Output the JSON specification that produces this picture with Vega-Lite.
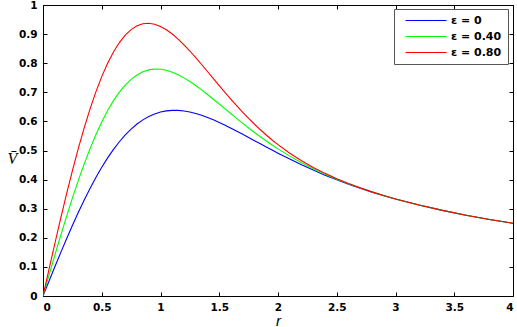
{
"$schema": "https://vega.github.io/schema/vega-lite/v6.json",
"width": 470, "height": 291,
"autosize": "none",
"padding": {"left": 43, "top": 5, "right": 4, "bottom": 31},
"background": "white",
"config": {"view": {"stroke": "black", "strokeWidth": 1},
 "axis": {"domain": false, "grid": false, "tickColor": "black", "tickSize": -4, "labelFont": "DejaVu Sans", "labelFontSize": 10.5, "labelColor": "black", "labelFontWeight": "bold"}},
"data": {"values": [
{"r":0,"V":0,"eps":"ε = 0"},{"r":0.05,"V":0.04994,"eps":"ε = 0"},{"r":0.1,"V":0.0995,"eps":"ε = 0"},{"r":0.15,"V":0.14833,"eps":"ε = 0"},{"r":0.2,"V":0.19605,"eps":"ε = 0"},{"r":0.25,"V":0.24235,"eps":"ε = 0"},{"r":0.3,"V":0.2869,"eps":"ε = 0"},{"r":0.35,"V":0.32941,"eps":"ε = 0"},{"r":0.4,"V":0.36964,"eps":"ε = 0"},{"r":0.45,"V":0.40736,"eps":"ε = 0"},{"r":0.5,"V":0.4424,"eps":"ε = 0"},{"r":0.55,"V":0.4746,"eps":"ε = 0"},{"r":0.6,"V":0.50387,"eps":"ε = 0"},{"r":0.65,"V":0.53014,"eps":"ε = 0"},{"r":0.7,"V":0.55339,"eps":"ε = 0"},{"r":0.75,"V":0.57362,"eps":"ε = 0"},{"r":0.8,"V":0.59089,"eps":"ε = 0"},{"r":0.85,"V":0.60525,"eps":"ε = 0"},{"r":0.9,"V":0.61682,"eps":"ε = 0"},{"r":0.95,"V":0.62571,"eps":"ε = 0"},{"r":1.0,"V":0.63212,"eps":"ε = 0"},{"r":1.05,"V":0.63616,"eps":"ε = 0"},{"r":1.1,"V":0.638,"eps":"ε = 0"},{"r":1.15,"V":0.63785,"eps":"ε = 0"},{"r":1.2,"V":0.63589,"eps":"ε = 0"},{"r":1.25,"V":0.63231,"eps":"ε = 0"},{"r":1.3,"V":0.62729,"eps":"ε = 0"},{"r":1.35,"V":0.62101,"eps":"ε = 0"},{"r":1.4,"V":0.61367,"eps":"ε = 0"},{"r":1.45,"V":0.60542,"eps":"ε = 0"},{"r":1.5,"V":0.5964,"eps":"ε = 0"},{"r":1.55,"V":0.58678,"eps":"ε = 0"},{"r":1.6,"V":0.57668,"eps":"ε = 0"},{"r":1.65,"V":0.56623,"eps":"ε = 0"},{"r":1.7,"V":0.55554,"eps":"ε = 0"},{"r":1.75,"V":0.5447,"eps":"ε = 0"},{"r":1.8,"V":0.5338,"eps":"ε = 0"},{"r":1.85,"V":0.5229,"eps":"ε = 0"},{"r":1.9,"V":0.51208,"eps":"ε = 0"},{"r":1.95,"V":0.50138,"eps":"ε = 0"},{"r":2.0,"V":0.49084,"eps":"ε = 0"},{"r":2.1,"V":0.4704,"eps":"ε = 0"},{"r":2.2,"V":0.45095,"eps":"ε = 0"},{"r":2.3,"V":0.43259,"eps":"ε = 0"},{"r":2.4,"V":0.41535,"eps":"ε = 0"},{"r":2.5,"V":0.39923,"eps":"ε = 0"},{"r":2.6,"V":0.38417,"eps":"ε = 0"},{"r":2.7,"V":0.37012,"eps":"ε = 0"},{"r":2.8,"V":0.357,"eps":"ε = 0"},{"r":2.9,"V":0.34475,"eps":"ε = 0"},{"r":3.0,"V":0.33331,"eps":"ε = 0"},{"r":3.2,"V":0.3125,"eps":"ε = 0"},{"r":3.4,"V":0.29412,"eps":"ε = 0"},{"r":3.6,"V":0.27778,"eps":"ε = 0"},{"r":3.8,"V":0.26316,"eps":"ε = 0"},{"r":4.0,"V":0.25,"eps":"ε = 0"},
{"r":0,"V":0,"eps":"ε = 0.40"},{"r":0.05,"V":0.06989,"eps":"ε = 0.40"},{"r":0.1,"V":0.1391,"eps":"ε = 0.40"},{"r":0.15,"V":0.207,"eps":"ε = 0.40"},{"r":0.2,"V":0.27291,"eps":"ε = 0.40"},{"r":0.25,"V":0.33629,"eps":"ε = 0.40"},{"r":0.3,"V":0.39657,"eps":"ε = 0.40"},{"r":0.35,"V":0.45327,"eps":"ε = 0.40"},{"r":0.4,"V":0.50598,"eps":"ε = 0.40"},{"r":0.45,"V":0.55436,"eps":"ε = 0.40"},{"r":0.5,"V":0.59816,"eps":"ε = 0.40"},{"r":0.55,"V":0.63717,"eps":"ε = 0.40"},{"r":0.6,"V":0.67131,"eps":"ε = 0.40"},{"r":0.65,"V":0.70055,"eps":"ε = 0.40"},{"r":0.7,"V":0.72493,"eps":"ε = 0.40"},{"r":0.75,"V":0.74455,"eps":"ε = 0.40"},{"r":0.8,"V":0.75962,"eps":"ε = 0.40"},{"r":0.85,"V":0.77033,"eps":"ε = 0.40"},{"r":0.9,"V":0.77697,"eps":"ε = 0.40"},{"r":0.95,"V":0.77983,"eps":"ε = 0.40"},{"r":1.0,"V":0.77927,"eps":"ε = 0.40"},{"r":1.05,"V":0.77561,"eps":"ε = 0.40"},{"r":1.1,"V":0.76921,"eps":"ε = 0.40"},{"r":1.15,"V":0.76043,"eps":"ε = 0.40"},{"r":1.2,"V":0.74962,"eps":"ε = 0.40"},{"r":1.25,"V":0.73712,"eps":"ε = 0.40"},{"r":1.3,"V":0.72324,"eps":"ε = 0.40"},{"r":1.35,"V":0.70829,"eps":"ε = 0.40"},{"r":1.4,"V":0.69255,"eps":"ε = 0.40"},{"r":1.45,"V":0.67626,"eps":"ε = 0.40"},{"r":1.5,"V":0.65964,"eps":"ε = 0.40"},{"r":1.55,"V":0.64289,"eps":"ε = 0.40"},{"r":1.6,"V":0.62616,"eps":"ε = 0.40"},{"r":1.65,"V":0.6096,"eps":"ε = 0.40"},{"r":1.7,"V":0.59333,"eps":"ε = 0.40"},{"r":1.75,"V":0.57744,"eps":"ε = 0.40"},{"r":1.8,"V":0.562,"eps":"ε = 0.40"},{"r":1.85,"V":0.54705,"eps":"ε = 0.40"},{"r":1.9,"V":0.53264,"eps":"ε = 0.40"},{"r":1.95,"V":0.51879,"eps":"ε = 0.40"},{"r":2.0,"V":0.50549,"eps":"ε = 0.40"},{"r":2.1,"V":0.48061,"eps":"ε = 0.40"},{"r":2.2,"V":0.45791,"eps":"ε = 0.40"},{"r":2.3,"V":0.43723,"eps":"ε = 0.40"},{"r":2.4,"V":0.41838,"eps":"ε = 0.40"},{"r":2.5,"V":0.40116,"eps":"ε = 0.40"},{"r":2.6,"V":0.38538,"eps":"ε = 0.40"},{"r":2.7,"V":0.37086,"eps":"ε = 0.40"},{"r":2.8,"V":0.35744,"eps":"ε = 0.40"},{"r":2.9,"V":0.34501,"eps":"ε = 0.40"},{"r":3.0,"V":0.33346,"eps":"ε = 0.40"},{"r":3.2,"V":0.31255,"eps":"ε = 0.40"},{"r":3.4,"V":0.29412,"eps":"ε = 0.40"},{"r":3.6,"V":0.27778,"eps":"ε = 0.40"},{"r":3.8,"V":0.26316,"eps":"ε = 0.40"},{"r":4.0,"V":0.25,"eps":"ε = 0.40"},
{"r":0,"V":0,"eps":"ε = 0.80"},{"r":0.05,"V":0.08984,"eps":"ε = 0.80"},{"r":0.1,"V":0.1787,"eps":"ε = 0.80"},{"r":0.15,"V":0.26566,"eps":"ε = 0.80"},{"r":0.2,"V":0.34978,"eps":"ε = 0.80"},{"r":0.25,"V":0.43023,"eps":"ε = 0.80"},{"r":0.3,"V":0.50624,"eps":"ε = 0.80"},{"r":0.35,"V":0.57713,"eps":"ε = 0.80"},{"r":0.4,"V":0.64233,"eps":"ε = 0.80"},{"r":0.45,"V":0.70137,"eps":"ε = 0.80"},{"r":0.5,"V":0.75392,"eps":"ε = 0.80"},{"r":0.55,"V":0.79975,"eps":"ε = 0.80"},{"r":0.6,"V":0.83875,"eps":"ε = 0.80"},{"r":0.65,"V":0.87095,"eps":"ε = 0.80"},{"r":0.7,"V":0.89646,"eps":"ε = 0.80"},{"r":0.75,"V":0.91549,"eps":"ε = 0.80"},{"r":0.8,"V":0.92836,"eps":"ε = 0.80"},{"r":0.85,"V":0.93541,"eps":"ε = 0.80"},{"r":0.9,"V":0.93712,"eps":"ε = 0.80"},{"r":0.95,"V":0.93395,"eps":"ε = 0.80"},{"r":1.0,"V":0.92642,"eps":"ε = 0.80"},{"r":1.05,"V":0.91507,"eps":"ε = 0.80"},{"r":1.1,"V":0.90041,"eps":"ε = 0.80"},{"r":1.15,"V":0.883,"eps":"ε = 0.80"},{"r":1.2,"V":0.86334,"eps":"ε = 0.80"},{"r":1.25,"V":0.84192,"eps":"ε = 0.80"},{"r":1.3,"V":0.81919,"eps":"ε = 0.80"},{"r":1.35,"V":0.79558,"eps":"ε = 0.80"},{"r":1.4,"V":0.77143,"eps":"ε = 0.80"},{"r":1.45,"V":0.7471,"eps":"ε = 0.80"},{"r":1.5,"V":0.72288,"eps":"ε = 0.80"},{"r":1.55,"V":0.699,"eps":"ε = 0.80"},{"r":1.6,"V":0.67563,"eps":"ε = 0.80"},{"r":1.65,"V":0.65297,"eps":"ε = 0.80"},{"r":1.7,"V":0.63112,"eps":"ε = 0.80"},{"r":1.75,"V":0.61018,"eps":"ε = 0.80"},{"r":1.8,"V":0.5902,"eps":"ε = 0.80"},{"r":1.85,"V":0.57119,"eps":"ε = 0.80"},{"r":1.9,"V":0.5532,"eps":"ε = 0.80"},{"r":1.95,"V":0.53619,"eps":"ε = 0.80"},{"r":2.0,"V":0.52014,"eps":"ε = 0.80"},{"r":2.1,"V":0.49082,"eps":"ε = 0.80"},{"r":2.2,"V":0.46487,"eps":"ε = 0.80"},{"r":2.3,"V":0.44187,"eps":"ε = 0.80"},{"r":2.4,"V":0.4214,"eps":"ε = 0.80"},{"r":2.5,"V":0.40309,"eps":"ε = 0.80"},{"r":2.6,"V":0.38658,"eps":"ε = 0.80"},{"r":2.7,"V":0.3716,"eps":"ε = 0.80"},{"r":2.8,"V":0.35788,"eps":"ε = 0.80"},{"r":2.9,"V":0.34527,"eps":"ε = 0.80"},{"r":3.0,"V":0.33361,"eps":"ε = 0.80"},{"r":3.2,"V":0.31259,"eps":"ε = 0.80"},{"r":3.4,"V":0.29412,"eps":"ε = 0.80"},{"r":3.6,"V":0.27778,"eps":"ε = 0.80"},{"r":3.8,"V":0.26316,"eps":"ε = 0.80"},{"r":4.0,"V":0.25,"eps":"ε = 0.80"}
]},
"layer": [
 {"mark": {"type": "line", "strokeWidth": 1.1, "clip": true},
  "encoding": {
   "x": {"field": "r", "type": "quantitative", "scale": {"domain": [0, 4], "nice": false},
     "axis": {"orient": "bottom", "values": [0,0.5,1,1.5,2,2.5,3,3.5,4], "format": "~g", "labelPadding": 10, "title": "r", "titleFont": "Liberation Sans", "titleFontStyle": "italic", "titleFontWeight": "normal", "titleFontSize": 15, "titleY": 29, "titleBaseline": "alphabetic"}},
   "y": {"field": "V", "type": "quantitative", "scale": {"domain": [0, 1], "nice": false},
     "axis": {"orient": "left", "values": [0,0.1,0.2,0.3,0.4,0.5,0.6,0.7,0.8,0.9,1], "format": "~g", "labelPadding": 10, "title": "V̄", "titleAngle": 0, "titleFont": "Liberation Serif", "titleFontStyle": "italic", "titleFontWeight": "normal", "titleFontSize": 16, "titleX": -31, "titleY": 153, "titleAlign": "center", "titleBaseline": "middle"}},
   "color": {"field": "eps", "type": "nominal",
     "scale": {"domain": ["ε = 0", "ε = 0.40", "ε = 0.80"], "range": ["#0000ff", "#00ff00", "#ff0000"]},
     "legend": {"title": null, "orient": "none", "legendX": 351, "legendY": 4, "fillColor": "white", "strokeColor": "#555555", "padding": 6, "symbolType": "M0,0H10.25", "symbolSize": 64, "symbolStrokeWidth": 1.2, "labelFont": "DejaVu Sans", "labelFontSize": 11, "labelFontWeight": "bold", "labelColor": "black", "rowPadding": 4, "labelOffset": 40}}
  }},
 {"mark": {"type": "line", "opacity": 0},
  "encoding": {
   "x": {"field": "r", "type": "quantitative", "axis": {"orient": "top", "values": [0,0.5,1,1.5,2,2.5,3,3.5,4], "labels": false, "title": null}},
   "y": {"field": "V", "type": "quantitative", "axis": {"orient": "right", "values": [0,0.1,0.2,0.3,0.4,0.5,0.6,0.7,0.8,0.9,1], "labels": false, "title": null}},
   "detail": {"field": "eps"}
  }}
],
"resolve": {"axis": {"x": "independent", "y": "independent"}}
}
